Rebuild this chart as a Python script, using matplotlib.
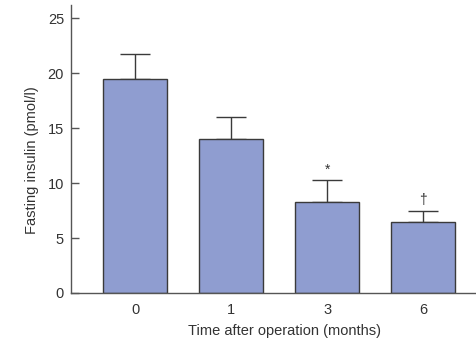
import matplotlib
matplotlib.use('Agg')
from matplotlib import pyplot as plt
import numpy as np

# data
months = ['0', '1', '3', '6']
insulin = [19.5, 14.0, 8.25, 6.45]
sem = [2.2, 2.0, 2.05, 1.05]
marks = ['', '', '*', '\u2020']

plt.rcParams['font.family'] = ['Liberation Sans', 'DejaVu Sans']
txt = '#333333'
fs = 10.5

fig = plt.figure(figsize=(4.77, 3.42), dpi=100)
ax = fig.add_axes([0.1488, 0.1433, 0.8512, 0.8421])

x = np.arange(len(months))
ax.bar(x, insulin, width=0.67, color='#8f9dd0', edgecolor='#3a3a3a', linewidth=1.0, zorder=2)
ax.errorbar(x, insulin, yerr=[np.zeros(len(sem)), sem], fmt='none', ecolor='#3a3a3a',
            elinewidth=1.0, capsize=11, capthick=1.0, zorder=1)

for xi, v, s, m in zip(x, insulin, sem, marks):
    if m:
        ax.text(xi, v + s + 0.3, m, ha='center', va='bottom', fontsize=10, color=txt)

ax.set_xlim(-0.667, 3.56)
ax.set_ylim(0, 26.2)
ax.set_yticks([0, 5, 10, 15, 20, 25])
ax.set_xticks(x)
ax.set_xticklabels(months)

for s in ['top', 'right']:
    ax.spines[s].set_visible(False)
for s in ['left', 'bottom']:
    ax.spines[s].set_color('#555555')
    ax.spines[s].set_linewidth(1.0)

ax.tick_params(axis='y', direction='in', length=6, width=1.0, color='#555555',
               labelsize=fs, labelcolor=txt, pad=5)
ax.tick_params(axis='x', length=0, labelsize=fs, labelcolor=txt, pad=7)

ax.set_ylabel('Fasting insulin (pmol/l)', fontsize=fs, color=txt)
ax.set_xlabel('Time after operation (months)', fontsize=fs, color=txt)
ax.yaxis.set_label_coords(-0.078, 0.46)
ax.xaxis.set_label_coords(0.525, -0.107)

fig.savefig('out.png', dpi=100)
